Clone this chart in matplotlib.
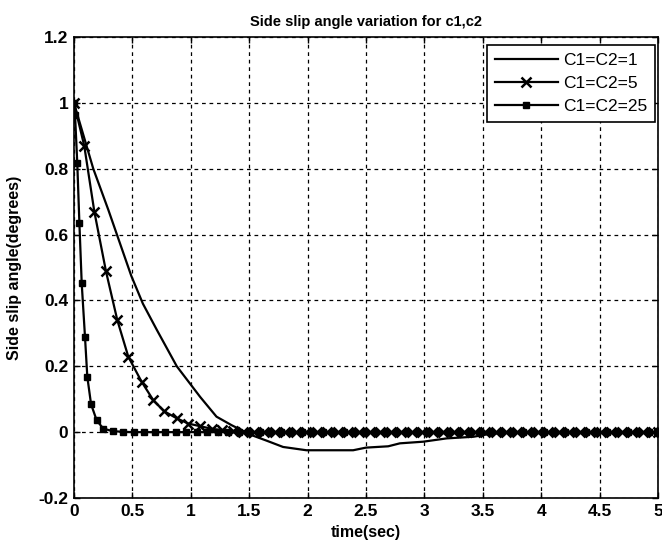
import matplotlib
matplotlib.use("Agg")
import matplotlib.pyplot as plt

# C1=C2=1 (plain line)
t1 = [0.0, 0.02, 0.165, 0.294, 0.49, 0.59, 0.71, 0.88, 1.08, 1.22, 1.35, 1.52,
      1.65, 1.79, 1.99, 2.39, 2.5, 2.69, 2.79, 2.99, 3.19, 3.42, 3.55, 3.75, 5.0]
y1 = [1.0, 0.975, 0.80, 0.675, 0.475, 0.39, 0.31, 0.20, 0.107, 0.047, 0.021, -0.009,
      -0.026, -0.045, -0.055, -0.055, -0.047, -0.043, -0.034, -0.029, -0.019, -0.014,
      -0.006, 0.0, 0.0]

# C1=C2=5 (x markers)
t2 = [0.0, 0.088, 0.174, 0.274, 0.371, 0.465, 0.579, 0.679, 0.77, 0.879, 0.979, 1.08,
      1.18, 1.27, 1.36, 1.45, 1.54, 1.63, 1.72, 1.81, 1.90, 1.99, 2.08, 2.17, 2.26,
      2.35, 2.44, 2.53, 2.62, 2.71, 2.80, 2.89, 2.98, 3.07, 3.16, 3.25, 3.34, 3.43,
      3.52, 3.61, 3.70, 3.79, 3.88, 3.97, 4.06, 4.15, 4.24, 4.33, 4.42, 4.51, 4.60,
      4.69, 4.78, 4.87, 4.96, 5.00]
y2 = [1.0, 0.869, 0.670, 0.488, 0.340, 0.229, 0.153, 0.097, 0.064, 0.042, 0.026, 0.018,
      0.010, 0.006, 0.003, 0.001, 0.0, 0.0, 0.0, 0.0, 0.0, 0.0, 0.0, 0.0, 0.0,
      0.0, 0.0, 0.0, 0.0, 0.0, 0.0, 0.0, 0.0, 0.0, 0.0, 0.0, 0.0, 0.0,
      0.0, 0.0, 0.0, 0.0, 0.0, 0.0, 0.0, 0.0, 0.0, 0.0, 0.0, 0.0, 0.0,
      0.0, 0.0, 0.0, 0.0, 0.0]

# C1=C2=25 (square markers)
t3 = [0.0, 0.009, 0.028, 0.046, 0.066, 0.094, 0.114, 0.146, 0.194, 0.25,
      0.33, 0.42, 0.51, 0.60, 0.69, 0.78, 0.87, 0.96, 1.05, 1.14, 1.23, 1.32,
      1.41, 1.50, 1.59, 1.68, 1.77, 1.86, 1.95, 2.04, 2.13, 2.22, 2.31, 2.40,
      2.49, 2.58, 2.67, 2.76, 2.85, 2.94, 3.03, 3.12, 3.21, 3.30, 3.39, 3.48,
      3.57, 3.66, 3.75, 3.84, 3.93, 4.02, 4.11, 4.20, 4.29, 4.38, 4.47, 4.56,
      4.65, 4.74, 4.83, 4.92, 5.00]
y3 = [1.0, 0.963, 0.817, 0.636, 0.452, 0.290, 0.168, 0.085, 0.036, 0.011,
      0.003, 0.001, 0.0, 0.0, 0.0, 0.0, 0.0, 0.0, 0.0, 0.0, 0.0, 0.0,
      0.0, 0.0, 0.0, 0.0, 0.0, 0.0, 0.0, 0.0, 0.0, 0.0, 0.0, 0.0,
      0.0, 0.0, 0.0, 0.0, 0.0, 0.0, 0.0, 0.0, 0.0, 0.0, 0.0, 0.0,
      0.0, 0.0, 0.0, 0.0, 0.0, 0.0, 0.0, 0.0, 0.0, 0.0, 0.0, 0.0,
      0.0, 0.0, 0.0, 0.0, 0.0]

xticks = [0, 0.5, 1, 1.5, 2, 2.5, 3, 3.5, 4, 4.5, 5]
xtick_labels = ["0", "0.5", "1", "1.5", "2", "2.5", "3", "3.5", "4", "4.5", "5"]
yticks = [-0.2, 0, 0.2, 0.4, 0.6, 0.8, 1.0, 1.2]
ytick_labels = ["-0.2", "0", "0.2", "0.4", "0.6", "0.8", "1", "1.2"]

plt.rcParams["font.family"] = ["Liberation Sans", "DejaVu Sans"]

fig = plt.figure(figsize=(6.62, 5.47), dpi=100)
ax = fig.add_axes([74 / 662, 1 - 498 / 547, 584 / 662, 461 / 547])

ax.plot(t1, y1, color="black", linewidth=1.6, label="C1=C2=1", zorder=3)
ax.plot(t2, y2, color="black", linewidth=1.6, marker="x", markersize=6.5,
        markeredgewidth=1.8, label="C1=C2=5", zorder=3)
ax.plot(t3, y3, color="black", linewidth=1.6, marker="s", markersize=3.8,
        label="C1=C2=25", zorder=3)

ax.set_xlim(0, 5)
ax.set_ylim(-0.2, 1.2)
ax.set_xticks(xticks)
ax.set_xticklabels(xtick_labels, fontweight="bold", fontsize=12.5)
ax.set_yticks(yticks)
ax.set_yticklabels(ytick_labels, fontweight="bold", fontsize=12.5)
ax.tick_params(direction="in", top=True, right=True, length=4, width=1, pad=4)

ax.grid(True, color="black", linestyle=(0, (3, 3)), linewidth=0.9)
ax.set_axisbelow(True)
for s in ax.spines.values():
    s.set_linewidth(1.2)

ax.set_title("Side slip angle variation for c1,c2", fontweight="bold", fontsize=10.5, pad=8)
ax.set_xlabel("time(sec)", fontweight="bold", fontsize=11.5, labelpad=5)
ax.set_ylabel("Side slip angle(degrees)", fontweight="bold", fontsize=11.5, labelpad=12)

leg = ax.legend(loc="upper right", bbox_to_anchor=(655 / 662, 1 - 45 / 547),
                bbox_transform=fig.transFigure, borderaxespad=0, fancybox=False,
                framealpha=1, edgecolor="black", fontsize=12.5, handlelength=3.6,
                handletextpad=0.3, labelspacing=0.45, borderpad=0.45)
leg.get_frame().set_linewidth(1.2)

fig.savefig("out.png", dpi=100)
